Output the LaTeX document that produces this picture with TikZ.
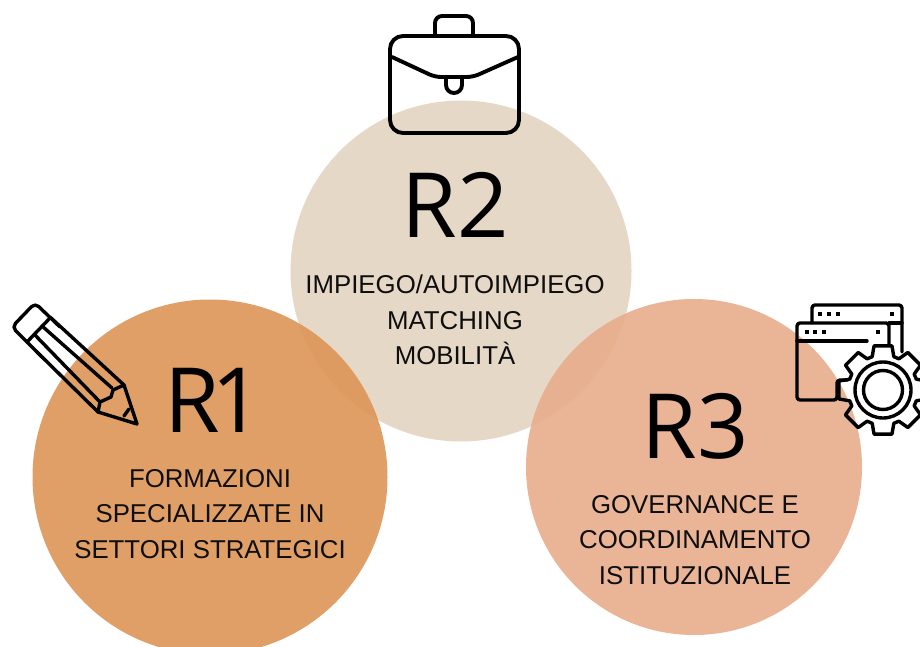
\documentclass[tikz,border=0pt]{standalone}
\usepackage{fontspec}
\setmainfont{Liberation Sans}
\newfontfamily\bigfont{Open Sans}
\definecolor{cOne}{RGB}{221,149,87}
\definecolor{cTwo}{RGB}{227,212,192}
\definecolor{cThree}{RGB}{232,173,140}
\definecolor{ink}{RGB}{14,14,14}
\begin{document}
\begin{tikzpicture}[x=1pt,y=-1pt,
  disc/.style={circle,inner sep=0pt,fill opacity=.9},
  big/.style={font=\bigfont\fontsize{90}{90}\selectfont,text=black,inner sep=0pt,anchor=base},
  lab/.style={font=\fontsize{25.8}{35.5}\selectfont,text=ink,align=center,inner sep=0pt,anchor=center},
  icon/.style={draw=black,line width=3.4pt,line join=round,line cap=round},
  caseline/.style={icon,line width=3.9pt}]
\useasboundingbox (0,0) rectangle (920,647);
\begin{scope}
\clip (0,0) rectangle (920,647);
\node[disc,fill=cTwo,minimum size=341pt] (c2) at (461,271) {};
\node[disc,fill=cOne,minimum size=355pt] (c1) at (210,477) {};
\node[disc,fill=cThree,minimum size=336pt] (c3) at (694,467) {};
\end{scope}
\node[big] (t1) at (214,432) {R\kern-9pt 1};
\node[big] (t2) at (455,237) {R2};
\node[big] (t3) at (695,458) {R3};
\node[lab] (l1) at (210,514) {FORMAZIONI\\SPECIALIZZATE IN\\SETTORI STRATEGICI};
\node[lab] (l2) at (455,320) {IMPIEGO/AUTOIMPIEGO\\MATCHING\\MOBILITÀ};
\node[lab] (l3) at (695,540) {GOVERNANCE E\\COORDINAMENTO\\ISTITUZIONALE};
% briefcase
\draw[caseline,rounded corners=13pt] (390,80) -- (390,36) -- (519,36) -- (519,133) -- (390,133) -- cycle;
\draw[caseline,rounded corners=7pt] (435,36) -- (435,16) -- (473,16) -- (473,36);
\draw[caseline,rounded corners=6pt] (392,57) -- (435,77) -- (473,77) -- (518,57);
\draw[caseline] (446,78) -- (446,85) arc[start angle=180,end angle=0,radius=8] -- (462,78);
% pencil
\draw[icon,rounded corners=5pt] (60,327) -- (35,303) -- (12,327) -- (42,357);
\draw[icon] (50,317) -- (124,385) -- (137,424) -- (98,412) -- (36,351);
\draw[icon] (50,318) -- (27,342);
\draw[icon] (42,326) -- (112,388);
\draw[icon] (34,334) -- (100,402);
\draw[icon] (124,385) -- (113,390) -- (111,397) -- (100,402) -- (98,412);
\draw[icon] (124,416) -- (129,409);
% windows and gear
\coordinate (g) at (883,390);
\draw[icon,rounded corners=3pt] (812,323) -- (812,305) -- (902,305) -- (902,352);
\draw[icon,rounded corners=3pt] (848,380) -- (837,380) -- (837,400) -- (797,400) -- (797,323) -- (889,323) -- (889,345);
\draw[icon] (889,323) -- (902,323);
\draw[icon] (797,341) -- (867,341);
\foreach \x/\y in {820/314,829/314,838/314,892/314,807/332,815/332,824/332,878/332}
  \fill[black] (\x-2.3,\y-2.3) rectangle (\x+2.3,\y+2.3);
\draw[icon] (g) ++(-18:35)
  \foreach \a in {0,45,...,315} { -- ([shift=(\a-18:35)]g) -- ([shift=(\a-11.5:45)]g) -- ([shift=(\a+11.5:45)]g) -- ([shift=(\a+18:35)]g) } -- cycle;
\draw[icon] (g) circle[radius=28];
\draw[icon] (g) circle[radius=19.5];
\end{tikzpicture}
\end{document}
